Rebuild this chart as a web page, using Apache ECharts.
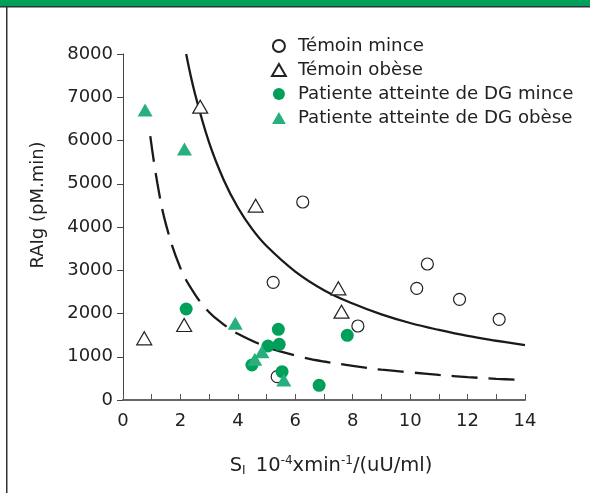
<!DOCTYPE html>
<html><head><meta charset="utf-8">
<script src="https://cdn.jsdelivr.net/npm/echarts@6/dist/echarts.min.js"></script>
<style>html,body{margin:0;padding:0;background:#fff}#c{width:590px;height:493px}</style>
</head><body><div id="c"></div>
<script>
var seriesNames = ['Témoin mince', 'Témoin obèse', 'Patiente atteinte de DG mince', 'Patiente atteinte de DG obèse'];
var temoinMince = [[6.26,4578],[10.6,3145],[10.23,2582],[11.72,2328],[13.1,1865],[8.18,1711],[5.23,2721],[5.37,539]];
var temoinObese = [[2.69,6782],[4.62,4493],[7.5,2582],[7.61,2042],[0.74,1426],[2.13,1734]];
var dgMince = [[2.2,2104],[5.41,1634],[5.44,1287],[5.05,1249],[4.49,809],[5.54,655],[6.83,339],[7.81,1495]];
var dgObese = [[0.77,6705],[2.14,5803],[3.91,1773],[4.84,1118],[4.59,941],[5.6,462]];
var solidCurve = [[2.2,8000],[2.5,7100],[3,5950],[3.5,5100],[4,4450],[4.5,3950],[5,3560],[6,2970],[7,2540],[8,2230],[9,1980],[10,1780],[11,1620],[12,1480],[13,1370],[14,1270]];
var dashedCurve = [[0.95,6100],[1.2,5000],[1.5,4050],[2,3050],[2.5,2450],[3,2030],[3.5,1750],[4,1530],[5,1230],[6,1030],[7,890],[8,790],[9,700],[10,640],[11,580],[12,530],[13,490],[14,460]];
var xTicks = [0,2,4,6,8,10,12,14];
var yTicks = [0,1000,2000,3000,4000,5000,6000,7000,8000];

var FONT = 'DejaVu Sans';
var GREEN = '#00a05a', TEAL = '#27b07e', INK = '#222';
var TRI = 'path://M7.5,0L15,13L0,13Z';
var chart = echarts.init(document.getElementById('c'));
chart.setOption({
  animation: false,
  grid: {left: 123, right: 65, top: 54, bottom: 93},
  graphic: [
    {type: 'rect', shape: {x: 0, y: 0, width: 590, height: 6}, style: {fill: GREEN}},
    {type: 'rect', shape: {x: 0, y: 6, width: 590, height: 1.5}, style: {fill: '#333'}},
    {type: 'rect', shape: {x: 6, y: 6, width: 1.5, height: 487}, style: {fill: '#333'}},
    {type: 'text', x: 38, y: 205, rotation: Math.PI / 2,
     style: {text: 'RAIg (pM.min)', font: '18px "DejaVu Sans"', fill: INK, align: 'center', verticalAlign: 'middle'}}
  ],
  legend: {
    data: [
      {name: seriesNames[0], icon: 'circle'},
      {name: seriesNames[1], icon: TRI},
      {name: seriesNames[2], icon: 'circle'},
      {name: seriesNames[3], icon: TRI}
    ],
    orient: 'vertical', left: 266, top: 32,
    itemWidth: 28, itemHeight: 12, itemGap: 6,
    textStyle: {fontFamily: FONT, fontSize: 18.2, color: INK}
  },
  xAxis: {
    type: 'value', min: 0, max: 14, interval: 1,
    axisLine: {lineStyle: {color: '#666', width: 2}},
    axisTick: {inside: true, length: 6, lineStyle: {color: '#555'}},
    splitLine: {show: false},
    axisLabel: {fontFamily: FONT, fontSize: 18, color: INK, margin: 12,
      formatter: function (v) { return xTicks.indexOf(v) >= 0 ? String(v) : ''; }},
    name: 'S{sub|I} 10{sup|-4}xmin{sup|-1}/(uU/ml)', nameLocation: 'middle', nameGap: 55,
    nameTextStyle: {fontFamily: FONT, fontSize: 19.5, color: INK, padding: [0, 0, 0, 14],
      rich: {sub: {fontSize: 12, verticalAlign: 'bottom', padding: [10, 4, 0, 0], fontFamily: FONT, color: INK},
             sup: {fontSize: 12, verticalAlign: 'top', padding: [0, 0, 8, 0], fontFamily: FONT, color: INK}}}
  },
  yAxis: {
    type: 'value', min: 0, max: 8000, interval: 1000,
    axisLine: {show: true, lineStyle: {color: '#444', width: 1}},
    axisTick: {show: true, length: 6, lineStyle: {color: '#444'}},
    splitLine: {show: false},
    axisLabel: {fontFamily: FONT, fontSize: 18, color: INK, margin: 10,
      formatter: function (v) { return yTicks.indexOf(v) >= 0 ? String(v) : ''; }}
  },
  series: [
    {type: 'line', data: solidCurve, smooth: 0.4, showSymbol: false, symbol: 'none', silent: true,
     lineStyle: {color: '#1a1a1a', width: 2.3}, z: 1},
    {type: 'line', data: dashedCurve, smooth: 0.4, showSymbol: false, symbol: 'none', silent: true,
     lineStyle: {color: '#1a1a1a', width: 2.3, type: [26, 11]}, z: 1},
    {name: seriesNames[0], type: 'scatter', data: temoinMince, symbol: 'circle', symbolSize: 12,
     itemStyle: {color: '#fff', borderColor: INK, borderWidth: 1.2, opacity: 1}, z: 2},
    {name: seriesNames[1], type: 'scatter', data: temoinObese, symbol: 'triangle', symbolSize: [15, 13],
     itemStyle: {color: '#fff', borderColor: INK, borderWidth: 1.2, opacity: 1}, z: 2},
    {name: seriesNames[2], type: 'scatter', data: dgMince, symbol: 'circle', symbolSize: 13,
     itemStyle: {color: GREEN, opacity: 1}, z: 3},
    {name: seriesNames[3], type: 'scatter', data: dgObese, symbol: 'triangle', symbolSize: [15, 13],
     itemStyle: {color: TEAL, opacity: 1}, z: 3}
  ]
});
</script></body></html>
